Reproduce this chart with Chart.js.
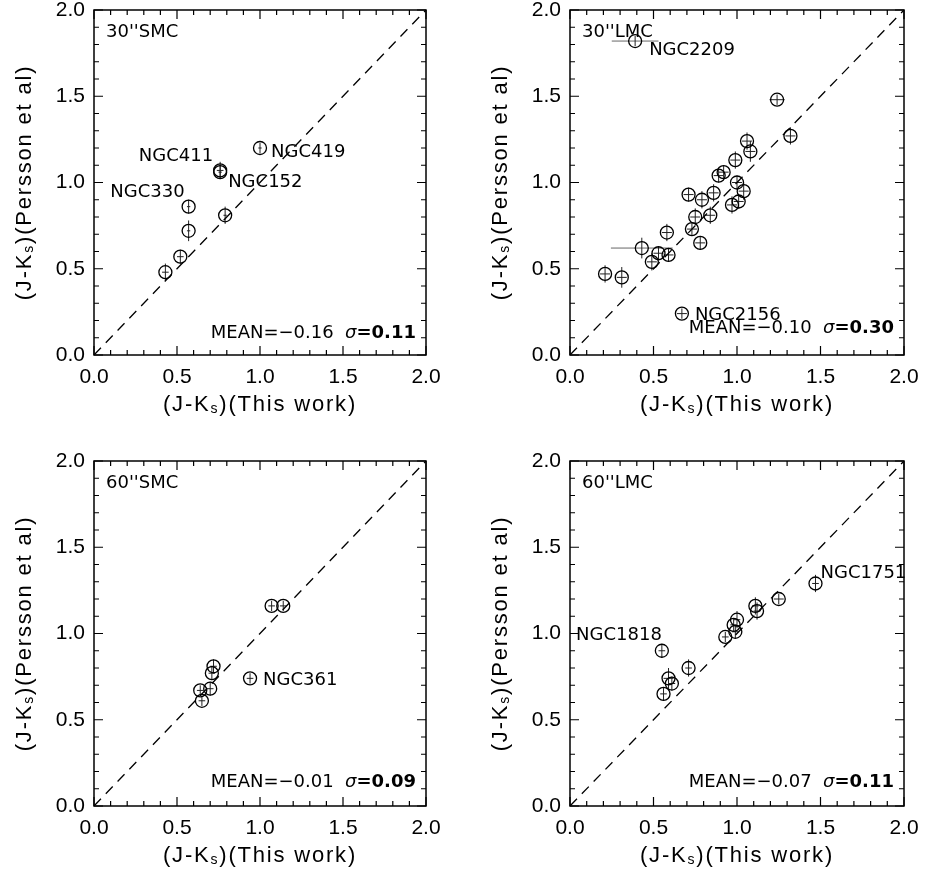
<!DOCTYPE html>
<html lang="en">
<head>
    <meta charset="UTF-8">
    <title>Persson vs this work (J-Ks)</title>
    <script src="https://cdn.jsdelivr.net/npm/chart.js"></script>
    <style>
        body { margin: 0; background: #fff; }
        #wrap { position: relative; width: 925px; height: 877px; }
        canvas { position: absolute; }
    </style>
</head>
<body>
    <div id="wrap">
        <canvas id="smc30" width="462" height="430" style="left:0;top:0"></canvas>
        <canvas id="lmc30" width="449" height="430" style="left:476px;top:0"></canvas>
        <canvas id="smc60" width="462" height="430" style="left:0;top:451px"></canvas>
        <canvas id="lmc60" width="449" height="430" style="left:476px;top:451px"></canvas>
    </div>

    <script>
        // axis ticks (same for every panel)
        const tickValues = [0, 0.5, 1.0, 1.5, 2.0];
        const tickLabels = ['0.0', '0.5', '1.0', '1.5', '2.0'];

        // 30" SMC
        const smc30X    = [1.00, 0.76, 0.76, 0.57, 0.57, 0.79, 0.52, 0.43];
        const smc30Y    = [1.20, 1.07, 1.06, 0.86, 0.72, 0.81, 0.57, 0.48];
        const smc30Xerr = [0.01, 0.02, 0.01, 0.01, 0.01, 0.01, 0.02, 0.02];
        const smc30Yerr = [0.03, 0.05, 0.04, 0.04, 0.06, 0.05, 0.04, 0.05];
        const smc30Names = ['NGC419', 'NGC411', 'NGC152', 'NGC330'];
        const smc30NameIdx = [0, 1, 1, 3];

        // 30" LMC
        const lmc30X    = [0.39, 1.24, 1.32, 1.06, 1.08, 0.99, 0.89, 0.92, 1.00, 1.04, 1.01, 0.97, 0.86, 0.71,
                           0.79, 0.84, 0.75, 0.73, 0.58, 0.78, 0.43, 0.53, 0.59, 0.49, 0.21, 0.31, 0.67];
        const lmc30Y    = [1.82, 1.48, 1.27, 1.24, 1.18, 1.13, 1.04, 1.06, 1.00, 0.95, 0.89, 0.87, 0.94, 0.93,
                           0.90, 0.81, 0.80, 0.73, 0.71, 0.65, 0.62, 0.59, 0.58, 0.54, 0.47, 0.45, 0.24];
        const lmc30Xerr = [0.14, 0.045, 0.03, 0.03, 0.03, 0.03, 0.03, 0.03, 0.03, 0.03, 0.03, 0.03, 0.03, 0.03,
                           0.03, 0.03, 0.03, 0.03, 0.03, 0.03, 0.185, 0.03, 0.03, 0.03, 0.03, 0.03, 0.03];
        const lmc30Yerr = [0.03, 0.03, 0.05, 0.05, 0.06, 0.05, 0.04, 0.04, 0.04, 0.05, 0.04, 0.05, 0.05, 0.04,
                           0.05, 0.05, 0.05, 0.04, 0.05, 0.04, 0.06, 0.04, 0.04, 0.05, 0.05, 0.06, 0.03];
        const lmc30Names = ['NGC2209', 'NGC2156'];
        const lmc30NameIdx = [0, 26];

        // 60" SMC
        const smc60X    = [1.07, 1.14, 0.72, 0.71, 0.70, 0.64, 0.65, 0.94];
        const smc60Y    = [1.16, 1.16, 0.81, 0.77, 0.68, 0.67, 0.61, 0.74];
        const smc60Xerr = [0.02, 0.02, 0.02, 0.02, 0.02, 0.02, 0.02, 0.02];
        const smc60Yerr = [0.03, 0.03, 0.04, 0.04, 0.04, 0.03, 0.03, 0.03];
        const smc60Names = ['NGC361'];
        const smc60NameIdx = [7];

        // 60" LMC
        const lmc60X    = [1.47, 1.25, 1.11, 1.12, 1.00, 0.98, 0.99, 0.93, 0.55, 0.71, 0.59, 0.61, 0.56];
        const lmc60Y    = [1.29, 1.20, 1.16, 1.13, 1.08, 1.05, 1.01, 0.98, 0.90, 0.80, 0.74, 0.71, 0.65];
        const lmc60Xerr = [0.02, 0.03, 0.02, 0.02, 0.02, 0.02, 0.02, 0.02, 0.02, 0.02, 0.03, 0.02, 0.02];
        const lmc60Yerr = [0.05, 0.03, 0.05, 0.05, 0.05, 0.04, 0.04, 0.03, 0.04, 0.05, 0.06, 0.04, 0.04];
        const lmc60Names = ['NGC1751', 'NGC1818'];
        const lmc60NameIdx = [0, 8];

        const SANS = "'Liberation Sans', Arial, Helvetica, sans-serif";
        const LABEL = "'DejaVu Sans', sans-serif";

        function drawParts(ctx, parts, x, y, align) {
            // parts: [text, font, dy]
            let total = 0;
            parts.forEach(p => { ctx.font = p[1]; total += ctx.measureText(p[0]).width; });
            let cx = align === 'center' ? x - total / 2 : (align === 'right' ? x - total : x);
            ctx.textAlign = 'left';
            parts.forEach(p => {
                ctx.font = p[1];
                ctx.fillText(p[0], cx, y + (p[2] || 0));
                cx += ctx.measureText(p[0]).width;
            });
        }

        const panelPlugin = {
            id: 'panel',
            beforeDatasetsDraw(chart, args, o) {
                const ctx = chart.ctx, xs = chart.scales.x, ys = chart.scales.y;
                ctx.save();
                ctx.lineWidth = 1;
                o.x.forEach((v, i) => {
                    const px = xs.getPixelForValue(v), py = ys.getPixelForValue(o.y[i]);
                    const x0 = xs.getPixelForValue(v - o.xerr[i]), x1 = xs.getPixelForValue(v + o.xerr[i]);
                    const y0 = ys.getPixelForValue(o.y[i] - o.yerr[i]), y1 = ys.getPixelForValue(o.y[i] + o.yerr[i]);
                    ctx.strokeStyle = o.xerr[i] > 0.1 ? '#666' : '#222';
                    ctx.beginPath();
                    ctx.moveTo(x0, py); ctx.lineTo(x1, py);
                    ctx.stroke();
                    ctx.strokeStyle = '#222';
                    ctx.beginPath();
                    ctx.moveTo(px, y0); ctx.lineTo(px, y1);
                    ctx.stroke();
                });
                ctx.restore();
            },
            afterDraw(chart, args, o) {
                const ctx = chart.ctx, a = chart.chartArea, xs = chart.scales.x, ys = chart.scales.y;
                ctx.save();
                // frame
                ctx.strokeStyle = '#000';
                ctx.lineWidth = 1.5;
                ctx.strokeRect(a.left, a.top, a.right - a.left, a.bottom - a.top);
                // ticks on all four sides, pointing inward
                ctx.lineWidth = 1.2;
                ctx.beginPath();
                for (let k = 0; k <= 20; k++) {
                    const v = k / 10;
                    const len = k % 5 === 0 ? 9 : 5;
                    const px = xs.getPixelForValue(v), py = ys.getPixelForValue(v);
                    ctx.moveTo(px, a.bottom); ctx.lineTo(px, a.bottom - len);
                    ctx.moveTo(px, a.top); ctx.lineTo(px, a.top + len);
                    ctx.moveTo(a.left, py); ctx.lineTo(a.left + len, py);
                    ctx.moveTo(a.right, py); ctx.lineTo(a.right - len, py);
                }
                ctx.stroke();

                ctx.fillStyle = '#000';
                ctx.textBaseline = 'middle';
                const f = '18px ' + LABEL;
                // panel name
                ctx.font = f;
                ctx.textAlign = 'left';
                ctx.fillText(o.title, a.left + 12, a.top + 22);
                // object names
                o.names.forEach((n, j) => {
                    const t = o.tags[j], i = o.nameIdx[j];
                    const px = xs.getPixelForValue(o.x[i]), py = ys.getPixelForValue(o.y[i]);
                    ctx.textAlign = t.align;
                    ctx.fillText(n, px + t.dx, py + t.dy);
                });
                // mean and sigma
                drawParts(ctx, [
                    [o.mean + '  ', f],
                    ['\u03c3', 'italic 18px ' + LABEL],
                    ['=' + o.sigma, 'bold 18px ' + LABEL]
                ], a.right - 10, a.bottom - o.meanDy, 'right');

                // axis titles with subscript s
                const big = '22px ' + SANS, small = '14px ' + SANS;
                ctx.letterSpacing = '1.8px';
                drawParts(ctx, [['(J-K', big], ['s', small, 4], [')(This work)', big]],
                    (a.left + a.right) / 2, a.bottom + 50, 'center');
                ctx.translate(a.left - 69, (a.top + a.bottom) / 2);
                ctx.rotate(-Math.PI / 2);
                drawParts(ctx, [['(J-K', big], ['s', small, 4], [')(Persson et al)', big]], 0, 0, 'center');
                ctx.restore();
            }
        };

        function makePanel(id, xs, ys, xerr, yerr, names, nameIdx, extra) {
            const pts = xs.map((v, i) => ({ x: v, y: ys[i] }));
            new Chart(document.getElementById(id), {
                type: 'scatter',
                data: {
                    datasets: [{
                        data: pts,
                        pointStyle: 'circle',
                        pointRadius: 6.5,
                        borderColor: '#000',
                        borderWidth: 1.3,
                        backgroundColor: 'rgba(0,0,0,0)'
                    }, {
                        data: [{ x: 0, y: 0 }, { x: 2, y: 2 }],
                        showLine: true,
                        pointRadius: 0,
                        borderColor: '#000',
                        borderWidth: 1.3,
                        borderDash: [10, 7]
                    }]
                },
                options: {
                    responsive: false,
                    animation: false,
                    devicePixelRatio: 1,
                    layout: { padding: { left: 0, top: 10, right: extra.padRight, bottom: 0 } },
                    plugins: {
                        legend: { display: false },
                        tooltip: { enabled: false },
                        panel: Object.assign({ x: xs, y: ys, xerr: xerr, yerr: yerr, names: names, nameIdx: nameIdx }, extra)
                    },
                    scales: {
                        x: {
                            type: 'linear', min: 0, max: 2,
                            grid: { display: false, drawTicks: false },
                            border: { display: false },
                            afterBuildTicks: s => { s.ticks = tickValues.map(v => ({ value: v })); },
                            afterFit: s => { s.height = 75; s.paddingLeft = 0; s.paddingRight = 0; },
                            ticks: {
                                padding: 10, color: '#000', maxRotation: 0,
                                font: { family: SANS, size: 21 },
                                callback: (v, i) => tickLabels[i]
                            }
                        },
                        y: {
                            type: 'linear', min: 0, max: 2,
                            grid: { display: false, drawTicks: false },
                            border: { display: false },
                            afterBuildTicks: s => { s.ticks = tickValues.map(v => ({ value: v })); },
                            afterFit: s => { s.width = 94; s.paddingTop = 0; s.paddingBottom = 0; },
                            ticks: {
                                padding: 9, color: '#000',
                                font: { family: SANS, size: 21 },
                                callback: (v, i) => tickLabels[i]
                            }
                        }
                    }
                },
                plugins: [panelPlugin]
            });
        }

        makePanel('smc30', smc30X, smc30Y, smc30Xerr, smc30Yerr, smc30Names, smc30NameIdx, {
            title: "30''SMC", mean: 'MEAN=\u22120.16', sigma: '0.11', meanDy: 22, padRight: 36,
            tags: [{ align: 'left', dx: 11, dy: 4 }, { align: 'right', dx: -7, dy: -14 },
                   { align: 'left', dx: 8, dy: 12 }, { align: 'right', dx: -4, dy: -14 }]
        });
        makePanel('lmc30', lmc30X, lmc30Y, lmc30Xerr, lmc30Yerr, lmc30Names, lmc30NameIdx, {
            title: "30''LMC", mean: 'MEAN=\u22120.10', sigma: '0.30', meanDy: 27, padRight: 21,
            tags: [{ align: 'left', dx: 14, dy: 9 }, { align: 'left', dx: 13, dy: 2 }]
        });
        makePanel('smc60', smc60X, smc60Y, smc60Xerr, smc60Yerr, smc60Names, smc60NameIdx, {
            title: "60''SMC", mean: 'MEAN=\u22120.01', sigma: '0.09', meanDy: 24, padRight: 36,
            tags: [{ align: 'left', dx: 13, dy: 2 }]
        });
        makePanel('lmc60', lmc60X, lmc60Y, lmc60Xerr, lmc60Yerr, lmc60Names, lmc60NameIdx, {
            title: "60''LMC", mean: 'MEAN=\u22120.07', sigma: '0.11', meanDy: 24, padRight: 21,
            tags: [{ align: 'left', dx: 5, dy: -10 }, { align: 'right', dx: 0, dy: -15 }]
        });
    </script>
</body>
</html>
